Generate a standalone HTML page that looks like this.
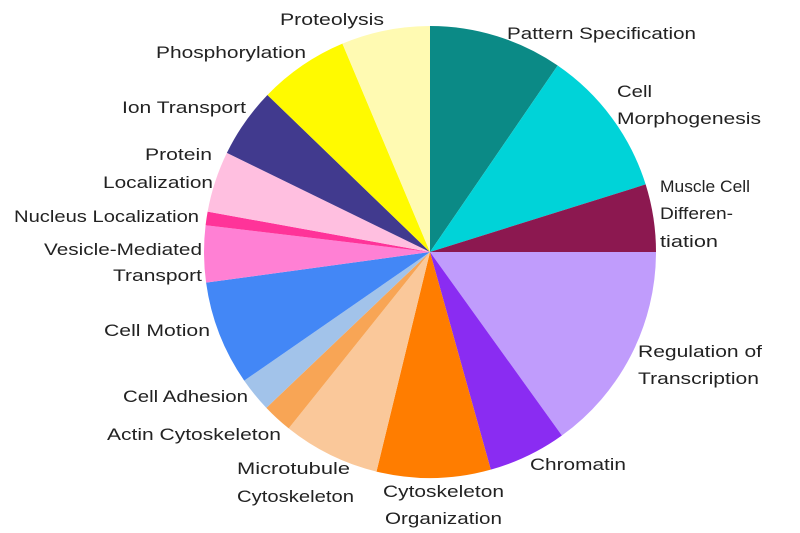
<!DOCTYPE html>
<html><head><meta charset="utf-8"><style>html,body{margin:0;padding:0;background:#fff}svg{display:block}text{font-family:"Liberation Sans",sans-serif;font-size:17px;fill:#222}</style></head>
<body>
<svg id="s" width="800" height="533" viewBox="0 0 800 533">
<g id="pie"></g>
<text x="507" y="39" textLength="189" lengthAdjust="spacingAndGlyphs">Pattern Specification</text>
<text x="617" y="97" textLength="35" lengthAdjust="spacingAndGlyphs">Cell</text>
<text x="617" y="124" textLength="144" lengthAdjust="spacingAndGlyphs">Morphogenesis</text>
<text x="660" y="192" textLength="90" lengthAdjust="spacingAndGlyphs">Muscle Cell</text>
<text x="660" y="219" textLength="73" lengthAdjust="spacingAndGlyphs">Differen-</text>
<text x="660" y="247" textLength="58" lengthAdjust="spacingAndGlyphs">tiation</text>
<text x="638" y="357" textLength="124" lengthAdjust="spacingAndGlyphs">Regulation of</text>
<text x="638" y="384" textLength="121" lengthAdjust="spacingAndGlyphs">Transcription</text>
<text x="530" y="470" textLength="96" lengthAdjust="spacingAndGlyphs">Chromatin</text>
<text x="383" y="497" textLength="121" lengthAdjust="spacingAndGlyphs">Cytoskeleton</text>
<text x="385" y="524" textLength="117" lengthAdjust="spacingAndGlyphs">Organization</text>
<text x="237" y="474" textLength="113" lengthAdjust="spacingAndGlyphs">Microtubule</text>
<text x="237" y="502" textLength="117" lengthAdjust="spacingAndGlyphs">Cytoskeleton</text>
<text x="107" y="440" textLength="174" lengthAdjust="spacingAndGlyphs">Actin Cytoskeleton</text>
<text x="123" y="402" textLength="125" lengthAdjust="spacingAndGlyphs">Cell Adhesion</text>
<text x="104" y="336" textLength="106" lengthAdjust="spacingAndGlyphs">Cell Motion</text>
<text x="44" y="255" textLength="158" lengthAdjust="spacingAndGlyphs">Vesicle-Mediated</text>
<text x="113" y="281" textLength="89" lengthAdjust="spacingAndGlyphs">Transport</text>
<text x="14" y="222" textLength="185" lengthAdjust="spacingAndGlyphs">Nucleus Localization</text>
<text x="145" y="160" textLength="67" lengthAdjust="spacingAndGlyphs">Protein</text>
<text x="103" y="188" textLength="110" lengthAdjust="spacingAndGlyphs">Localization</text>
<text x="122" y="113" textLength="124" lengthAdjust="spacingAndGlyphs">Ion Transport</text>
<text x="156" y="58" textLength="150" lengthAdjust="spacingAndGlyphs">Phosphorylation</text>
<text x="280" y="25" textLength="104" lengthAdjust="spacingAndGlyphs">Proteolysis</text>
</svg>
<script>
var cx=430,cy=252,r=226;
var a=[0,34.4,72.6,90,144.3,164.4,193.7,218.7,226.4,235.3,262.2,276.8,280.3,296,314,337.2,360];
var c=["#0b8a86","#00d3d8","#8c1850","#c09cfc","#8a2cf2","#ff7d00","#fac89a","#f8a555","#a2c3ea","#4387f6","#ff80d4","#ff3399","#ffbfe0","#413a8e","#fffa00","#fffab2"];
var g=document.getElementById("pie"),h="";
function p(d){var t=(d-90)*Math.PI/180;return (cx+r*Math.cos(t)).toFixed(2)+","+(cy+r*Math.sin(t)).toFixed(2);}
for(var i=0;i<16;i++){var l=(a[i+1]-a[i])>180?1:0;h+='<path d="M'+cx+','+cy+' L'+p(a[i])+' A'+r+','+r+' 0 '+l+',1 '+p(a[i+1])+' Z" fill="'+c[i]+'"/>';}
g.innerHTML=h;
</script>
</body></html>
